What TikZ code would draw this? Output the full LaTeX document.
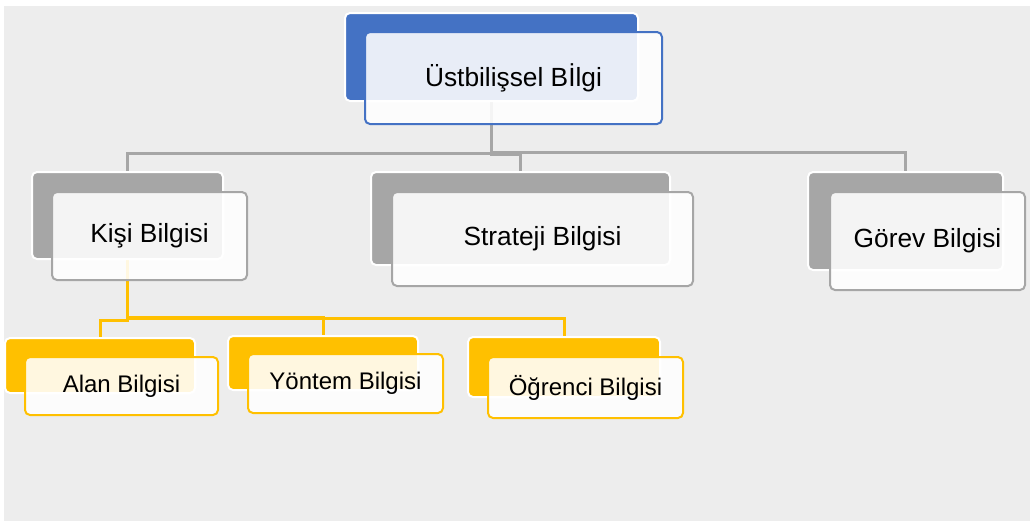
\documentclass[tikz,border=0pt]{standalone}
\usepackage{fontspec}
\setmainfont{Liberation Sans}
\usetikzlibrary{calc}
\pgfdeclarelayer{bg}
\pgfsetlayers{bg,main}
\definecolor{pagebg}{HTML}{EDEDED}
\definecolor{cblue}{HTML}{4472C4}
\definecolor{cgray}{HTML}{A6A6A6}
\definecolor{cyellow}{HTML}{FFC000}
\tikzset{
  backbox/.style={fill=#1, draw=white, line width=2pt, rounded corners=5pt, inner sep=0pt},
  frontbox/.style={fill=white, fill opacity=0.88, text opacity=1, draw=#1, draw opacity=1, line width=2pt, rounded corners=5pt, inner sep=0pt, text=black},
  bigtext/.style={font=\fontsize{26.3}{30}\selectfont},
  smalltext/.style={font=\fontsize{24}{28}\selectfont},
  gline/.style={draw=cgray, line width=3pt},
  yline/.style={draw=cyellow, line width=3pt}
}
\begin{document}
\begin{tikzpicture}[x=1pt,y=-1pt]
\useasboundingbox (0,0) rectangle (1030,523);
% top
\node[backbox=cblue, minimum width=293pt, minimum height=88pt] (tb) at (491.5,57) {};
\node[frontbox=cblue, bigtext, minimum width=297pt, minimum height=92pt] (tf) at (513.5,78) {Üstbilişsel Bİlgi};
% level 2
\node[backbox=cgray, minimum width=191pt, minimum height=87pt] (kb) at (127.5,215.5) {};
\node[frontbox=cgray, bigtext, minimum width=195pt, minimum height=88pt] (kf) at (149.5,236) {Kişi Bilgisi};
\node[backbox=cgray, minimum width=299pt, minimum height=93pt] (sb) at (520.5,218.5) {};
\node[frontbox=cgray, bigtext, minimum width=301pt, minimum height=94pt] (sf) at (542.5,239) {Strateji Bilgisi};
\node[backbox=cgray, minimum width=195pt, minimum height=98pt] (gb) at (905.5,221) {};
\node[frontbox=cgray, bigtext, minimum width=195pt, minimum height=98pt] (gf) at (927.5,241) {Görev Bilgisi};
% level 3
\node[backbox=cyellow, minimum width=190pt, minimum height=55pt] (ab) at (100,365.5) {};
\node[frontbox=cyellow, smalltext, minimum width=193pt, minimum height=58pt] (af) at (121.5,386) {Alan Bilgisi};
\node[backbox=cyellow, minimum width=190pt, minimum height=54pt] (yb) at (323,363) {};
\node[frontbox=cyellow, smalltext, minimum width=195pt, minimum height=59pt] (yf) at (345.5,383.5) {Yöntem Bilgisi};
\node[backbox=cyellow, minimum width=192pt, minimum height=60pt] (ob) at (564,367) {};
\node[frontbox=cyellow, smalltext, minimum width=195pt, minimum height=61pt] (of) at (585.5,387.5) {Öğrenci Bilgisi};
\begin{pgfonlayer}{bg}
\fill[pagebg] (4,6) rectangle (1030,521);
\draw[gline] (tb.south) -- (tb.south |- 0,153) -- (kb.north |- 0,153) -- (kb.north);
\draw[gline] (tb.south) -- (tb.south |- 0,154.5) -- (sb.north |- 0,154.5) -- (sb.north);
\draw[gline] (tb.south) -- (tb.south |- 0,152) -- (gb.north |- 0,152) -- (gb.north);
\draw[yline] (kb.south) -- (kb.south |- 0,320) -- (ab.north |- 0,320) -- (ab.north);
\draw[yline] (kb.south) -- (kb.south |- 0,317) -- (yb.north |- 0,317) -- (yb.north);
\draw[yline] (kb.south) -- (kb.south |- 0,318) -- (ob.north |- 0,318) -- (ob.north);
\end{pgfonlayer}
\end{tikzpicture}
\end{document}
